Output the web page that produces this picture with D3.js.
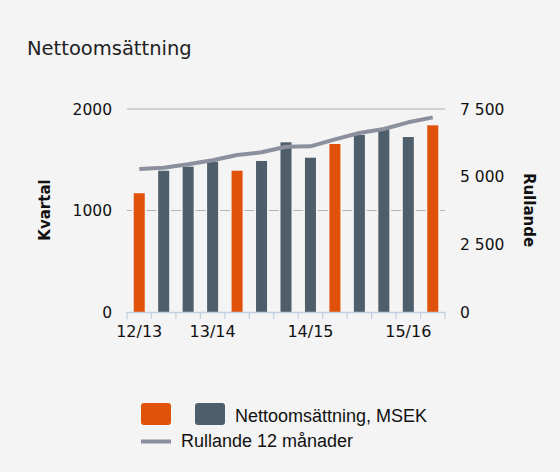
<!DOCTYPE html>
<html>
<head>
<meta charset="utf-8">
<script src="https://cdn.jsdelivr.net/npm/d3@7"></script>
<style>
  body { margin: 0; background: #f4f4f4; }
  svg { display: block; }
</style>
</head>
<body>
<svg id="chart" width="560" height="472"></svg>
<script>
// quarterly net sales (MSEK), orange = full year quarter
const tickLabels = ["12/13", "", "", "13/14", "", "", "", "14/15", "", "", "", "15/16", ""];
const quarterValues = [1170, 1392, 1432, 1481, 1392, 1488, 1672, 1520, 1655, 1744, 1800, 1724, 1839];
const yearEnd = [true, false, false, false, true, false, false, false, true, false, false, false, true];
const rolling12 = [5283, 5331, 5456, 5604, 5800, 5900, 6107, 6120, 6380, 6612, 6760, 7008, 7192];
const leftTicks = [0, 1000, 2000];
const rightTicks = [0, 2500, 5000, 7500];

const svg = d3.select("#chart");
const W = 560, H = 472;
const plot = { left: 127, right: 445, top: 109, bottom: 312 };

svg.append("rect").attr("width", W).attr("height", H).attr("fill", "#f4f4f4");

svg.append("text")
  .attr("x", 27).attr("y", 55)
  .attr("font-family", "DejaVu Sans").attr("font-size", 19.5)
  .attr("fill", "#222")
  .text("Nettoomsättning");

const x = d3.scaleBand()
  .domain(d3.range(quarterValues.length))
  .range([plot.left, plot.right])
  .paddingInner(0.55)
  .paddingOuter(0.275);

const y = d3.scaleLinear().domain([0, 2000]).range([plot.bottom, plot.top]);
const yR = d3.scaleLinear().domain([0, 7500]).range([plot.bottom, plot.top]);

// grid lines
svg.append("line")
  .attr("x1", plot.left).attr("x2", plot.right)
  .attr("y1", y(2000)).attr("y2", y(2000))
  .attr("stroke", "#c6c6c6").attr("stroke-width", 1.5);

svg.append("line")
  .attr("x1", plot.left).attr("x2", plot.right)
  .attr("y1", y(1000)).attr("y2", y(1000))
  .attr("stroke", "#b4b4b4").attr("stroke-width", 1.2)
  .attr("stroke-dasharray", "10 " + (x.step() - 10))
  .attr("stroke-dashoffset", 4.9);

// left axis labels
svg.append("g")
  .selectAll("text")
  .data(leftTicks)
  .join("text")
  .attr("x", 112)
  .attr("y", d => y(d) + 5.5)
  .attr("text-anchor", "end")
  .attr("font-family", "DejaVu Sans").attr("font-size", 15.5)
  .attr("fill", "#111")
  .text(d => d);

// right axis labels
svg.append("g")
  .selectAll("text")
  .data(rightTicks)
  .join("text")
  .attr("x", 460)
  .attr("y", d => yR(d) + 5.5)
  .attr("font-family", "DejaVu Sans").attr("font-size", 15.5)
  .attr("fill", "#111")
  .text(d => d3.format(",")(d).replace(",", " "));

svg.append("text")
  .attr("transform", "translate(50,210) rotate(-90)")
  .attr("text-anchor", "middle")
  .attr("font-family", "DejaVu Sans").attr("font-weight", "bold").attr("font-size", 15)
  .attr("fill", "#111")
  .text("Kvartal");

svg.append("text")
  .attr("transform", "translate(524,210) rotate(90)")
  .attr("text-anchor", "middle")
  .attr("font-family", "DejaVu Sans").attr("font-weight", "bold").attr("font-size", 15)
  .attr("fill", "#111")
  .text("Rullande");

// bars
svg.append("g")
  .selectAll("rect")
  .data(quarterValues)
  .join("rect")
  .attr("x", (d, i) => x(i))
  .attr("y", d => y(d))
  .attr("width", x.bandwidth())
  .attr("height", d => y(0) - y(d))
  .attr("fill", (d, i) => yearEnd[i] ? "#e0520a" : "#4e5e6a");

// x axis
const half = (x.step() - x.bandwidth()) / 2;
svg.append("line")
  .attr("x1", plot.left).attr("x2", plot.right)
  .attr("y1", plot.bottom + 0.5).attr("y2", plot.bottom + 0.5)
  .attr("stroke", "#c0d0e0").attr("stroke-width", 1.5);

svg.append("g")
  .selectAll("line")
  .data(d3.range(quarterValues.length + 1))
  .join("line")
  .attr("x1", i => i < quarterValues.length ? x(i) - half : plot.right)
  .attr("x2", i => i < quarterValues.length ? x(i) - half : plot.right)
  .attr("y1", plot.bottom).attr("y2", plot.bottom + 7)
  .attr("stroke", "#c0d0e0").attr("stroke-width", 1.2);

svg.append("g")
  .selectAll("text")
  .data(tickLabels)
  .join("text")
  .attr("x", (d, i) => x(i) + x.bandwidth() / 2)
  .attr("y", 337)
  .attr("text-anchor", "middle")
  .attr("font-family", "DejaVu Sans").attr("font-size", 16)
  .attr("fill", "#111")
  .text(d => d);

// rolling 12 months line
const line = d3.line()
  .x((d, i) => x(i) + x.bandwidth() / 2)
  .y(d => yR(d));

svg.append("path")
  .datum(rolling12)
  .attr("d", line)
  .attr("fill", "none")
  .attr("stroke", "#8c909e")
  .attr("stroke-width", 4)
  .attr("stroke-linejoin", "round");

// legend
const legend = svg.append("g");
legend.append("rect")
  .attr("x", 141).attr("y", 403).attr("width", 30).attr("height", 22).attr("rx", 3)
  .attr("fill", "#e0520a");
legend.append("rect")
  .attr("x", 195).attr("y", 403).attr("width", 30).attr("height", 22).attr("rx", 3)
  .attr("fill", "#4e5e6a");
legend.append("text")
  .attr("x", 235).attr("y", 422)
  .attr("font-family", "Liberation Sans").attr("font-size", 18)
  .attr("fill", "#111")
  .text("Nettoomsättning, MSEK");
legend.append("line")
  .attr("x1", 141).attr("x2", 171).attr("y1", 441.5).attr("y2", 441.5)
  .attr("stroke", "#8c909e").attr("stroke-width", 4);
legend.append("text")
  .attr("x", 181).attr("y", 447)
  .attr("font-family", "Liberation Sans").attr("font-size", 18)
  .attr("fill", "#111")
  .text("Rullande 12 månader");
</script>
</body>
</html>
